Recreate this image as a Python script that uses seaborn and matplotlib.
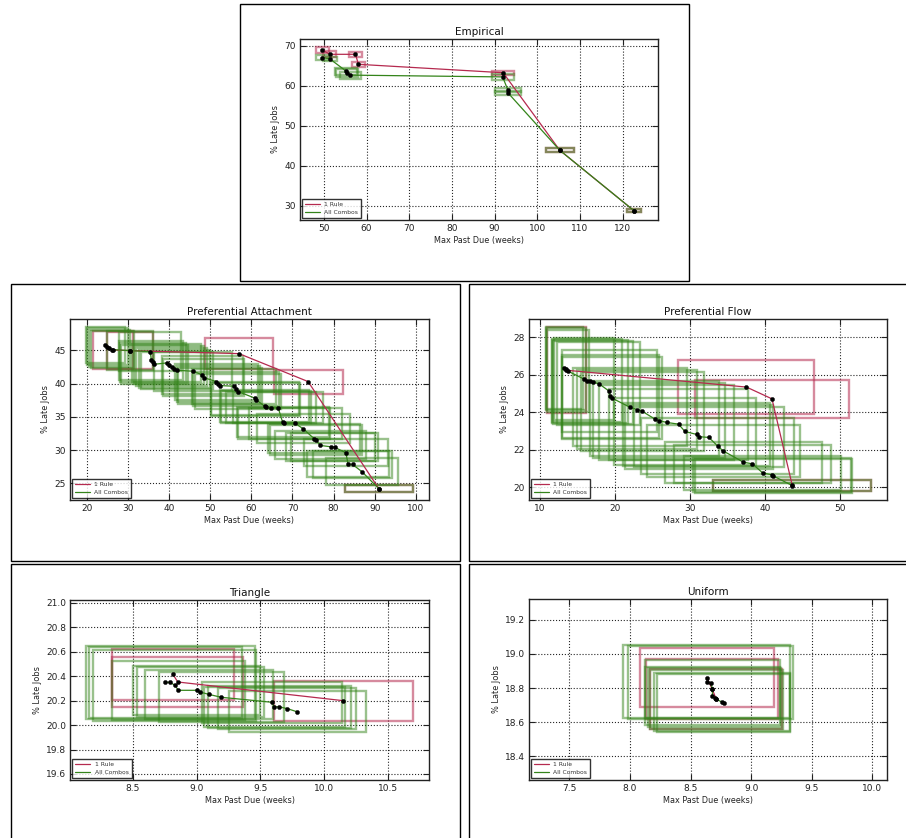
import numpy as np
import pandas as pd
import seaborn as sns
import matplotlib
matplotlib.use('Agg')
import matplotlib.pyplot as plt
from matplotlib.patches import Rectangle
from matplotlib.ticker import FormatStrFormatter, MultipleLocator

# ---------------- DATA ----------------
# Empirical
emp_rule_x = [49.6, 51.4, 57.4, 58.1, 92.0, 105.3, 122.7]
emp_rule_y = [69.0, 67.9, 67.9, 65.4, 63.3, 43.9, 28.8]
emp_rule_xerr = [1.5, 1.5, 1.5, 1.5, 2.5, 3.3, 1.7]
emp_rule_yerr = [0.75, 0.75, 0.7, 0.55, 0.5, 0.5, 0.4]
emp_combo_x = [49.6, 51.4, 55.2, 55.4, 56.2, 91.9, 93.1, 93.2, 105.3, 122.7]
emp_combo_y = [67.1, 66.75, 63.7, 63.25, 62.7, 62.25, 59.0, 58.2, 43.9, 28.8]
emp_combo_xerr = [1.5, 1.6, 2.6, 2.6, 2.5, 2.6, 3.0, 3.0, 3.3, 1.7]
emp_combo_yerr = [0.65, 0.6, 0.9, 0.9, 0.85, 0.65, 0.6, 0.55, 0.5, 0.4]

# Preferential Attachment
pa_rule_x = [26.3, 30.6, 57.0, 73.8, 91.0]
pa_rule_y = [45.05, 44.95, 44.5, 40.3, 24.2]
pa_rule_xerr = [4.9, 5.6, 8.25, 8.4, 8.2]
pa_rule_yerr = [2.85, 2.8, 2.3, 1.8, 0.48]
pa_combo_x = [24.5, 25.0, 25.5, 26.2, 30.6, 35.4, 35.7, 36.0, 36.4, 39.4, 40.0,
              40.6, 41.3, 41.9, 45.9, 48.1, 48.4, 51.5, 52.0, 52.3, 55.8, 56.3,
              56.8, 60.9, 61.1, 63.2, 63.5, 64.8, 66.5, 67.6, 67.9, 70.7, 72.6,
              75.3, 75.7, 76.8, 79.3, 80.3, 83.0, 83.5, 84.6, 86.9, 91.0]
pa_combo_y = [45.8, 45.55, 45.3, 45.1, 44.95, 44.8, 43.5, 43.2, 42.9, 43.1, 42.8,
              42.5, 42.2, 42.0, 41.85, 41.3, 40.9, 40.3, 39.9, 39.7, 39.6, 39.2,
              38.8, 37.8, 37.6, 36.6, 36.5, 36.4, 36.4, 34.2, 34.0, 34.0, 33.2,
              31.7, 31.5, 30.7, 30.5, 30.4, 29.6, 27.9, 27.85, 26.75, 24.2]
pa_combo_xerr = [4.8, 4.9, 5.0, 5.2, 5.6, 7.5, 7.8, 8.0, 8.2, 8.4, 8.5,
                 8.6, 8.6, 8.7, 9.5, 9.8, 9.8, 10.0, 10.2, 10.2, 10.3, 10.4,
                 10.5, 10.8, 10.8, 10.9, 11.0, 11.0, 11.0, 11.2, 11.2, 11.3, 11.3,
                 11.2, 11.2, 11.0, 10.8, 10.6, 10.2, 10.0, 9.5, 8.8, 8.2]
pa_combo_yerr = [2.75, 2.8, 2.8, 2.75, 2.9, 2.9, 2.9, 2.9, 2.9, 2.8, 2.8,
                 2.8, 2.8, 2.8, 2.9, 2.8, 2.8, 2.7, 2.7, 2.7, 2.6, 2.6,
                 2.6, 2.5, 2.5, 2.4, 2.4, 2.4, 2.4, 2.3, 2.3, 2.3, 2.2,
                 2.2, 2.2, 2.1, 2.1, 2.1, 2.0, 2.0, 2.0, 2.0, 0.48]

# Preferential Flow
pf_rule_x = [13.5, 37.5, 40.9, 43.6]
pf_rule_y = [26.25, 25.35, 24.72, 20.1]
pf_rule_xerr = [2.6, 9.05, 10.3, 10.5]
pf_rule_yerr = [2.3, 1.45, 1.0, 0.28]
pf_combo_x = [13.24, 13.46, 13.73, 15.9, 16.26, 16.66, 17.06, 17.8, 19.23, 19.37,
              19.6, 21.94, 22.96, 23.6, 25.27, 25.8, 26.9, 28.46, 29.3, 30.86,
              31.2, 32.5, 33.7, 34.4, 37.1, 38.3, 39.65, 40.9, 41.1, 43.6]
pf_combo_y = [26.38, 26.31, 26.2, 25.77, 25.7, 25.65, 25.6, 25.54, 25.13, 24.85,
              24.76, 24.28, 24.15, 24.06, 23.65, 23.56, 23.46, 23.37, 22.98, 22.82,
              22.7, 22.66, 22.19, 21.94, 21.34, 21.25, 20.77, 20.66, 20.6, 20.09]
pf_combo_xerr = [2.5, 2.7, 2.8, 4.0, 4.6, 5.0, 5.3, 5.5, 6.3, 6.5,
                 6.6, 7.6, 8.0, 8.2, 8.6, 8.8, 9.0, 9.3, 9.5, 9.8,
                 9.9, 10.0, 10.2, 10.2, 10.4, 10.4, 10.5, 10.5, 10.4, 10.5]
pf_combo_yerr = [2.2, 2.2, 2.2, 2.2, 2.2, 2.2, 2.2, 2.2, 2.2, 2.2,
                 2.2, 2.1, 2.1, 2.1, 2.0, 2.0, 2.0, 1.9, 1.8, 1.7,
                 1.7, 1.6, 1.5, 1.4, 1.1, 1.0, 0.9, 0.9, 0.9, 0.28]

# Triangle
tri_rule_x = [8.814, 8.853, 10.149]
tri_rule_y = [20.416, 20.353, 20.2]
tri_rule_xerr = [0.478, 0.513, 0.545]
tri_rule_yerr = [0.21, 0.205, 0.163]
tri_combo_x = [8.756, 8.795, 8.829, 8.858, 9.0, 9.03, 9.095, 9.192,
               9.589, 9.61, 9.649, 9.711, 9.79]
tri_combo_y = [20.35, 20.35, 20.326, 20.285, 20.285, 20.27, 20.252, 20.228,
               20.187, 20.149, 20.149, 20.135, 20.108]
tri_combo_xerr = [0.6, 0.66, 0.64, 0.52, 0.5, 0.5, 0.5, 0.49,
                  0.55, 0.55, 0.56, 0.54, 0.537]
tri_combo_yerr = [0.29, 0.3, 0.29, 0.24, 0.2, 0.207, 0.2, 0.205,
                  0.17, 0.166, 0.17, 0.17, 0.168]

# Uniform
uni_rule_x = [8.636, 8.678, 8.712]
uni_rule_y = [18.86, 18.795, 18.735]
uni_rule_xerr = [0.556, 0.546, 0.547]
uni_rule_yerr = [0.174, 0.176, 0.174]
uni_combo_x = [8.632, 8.665, 8.681, 8.681, 8.698, 8.714, 8.758, 8.775]
uni_combo_y = [18.837, 18.831, 18.796, 18.753, 18.744, 18.734, 18.718, 18.713]
uni_combo_xerr = [0.69, 0.68, 0.56, 0.556, 0.55, 0.547, 0.56, 0.55]
uni_combo_yerr = [0.214, 0.214, 0.17, 0.17, 0.172, 0.174, 0.172, 0.17]

series_labels = ['1 Rule', 'All Combos']
x_label = 'Max Past Due (weeks)'
y_label = '% Late Jobs'

# ---------------- STYLE ----------------
sns.set_theme(style='white')
plt.rcParams['font.family'] = ['DejaVu Sans']

RED = '#b52a4f'
GREEN = '#34841a'

W, H = 906, 838
fig = plt.figure(figsize=(W / 100, H / 100), dpi=100)
fig.patch.set_facecolor('white')


def add_frame(x0, y0, x1, y1):
    fig.add_artist(Rectangle((x0 / W, 1 - y1 / H), (x1 - x0) / W, (y1 - y0) / H,
                             transform=fig.transFigure, fill=False,
                             edgecolor='black', lw=1.0))


def make_ax(l, r, t, b):
    return fig.add_axes([l / W, 1 - b / H, (r - l) / W, (b - t) / H])


def draw_panel(ax, title, rule, combo, xlim, ylim, xstep, ystep, fmt):
    for (xs, ys, xe, ye), col, al in [(rule, RED, 0.55), (combo, GREEN, 0.5)]:
        for x, y, ex, ey in zip(xs, ys, xe, ye):
            ax.add_patch(Rectangle((x - ex, y - ey), 2 * ex, 2 * ey, fill=False,
                                   edgecolor=col, lw=1.7, alpha=al, zorder=2))
    for (xs, ys, xe, ye), col, lab in [(rule, RED, series_labels[0]),
                                        (combo, GREEN, series_labels[1])]:
        df = pd.DataFrame({'x': xs, 'y': ys})
        sns.lineplot(data=df, x='x', y='y', sort=False, estimator=None,
                     color=col, lw=0.9, ax=ax, label=lab, zorder=3)
    for (xs, ys, xe, ye) in [rule, combo]:
        df = pd.DataFrame({'x': xs, 'y': ys})
        sns.scatterplot(data=df, x='x', y='y', color='black', s=9,
                        edgecolor='black', linewidth=0.3, ax=ax, zorder=4,
                        legend=False)
    ax.set_xlim(*xlim)
    ax.set_ylim(*ylim)
    ax.xaxis.set_major_locator(MultipleLocator(xstep))
    ax.yaxis.set_major_locator(MultipleLocator(ystep))
    if fmt:
        ax.xaxis.set_major_formatter(FormatStrFormatter(fmt[0]))
        ax.yaxis.set_major_formatter(FormatStrFormatter(fmt[1]))
    ax.grid(True, color='black', linestyle=':', lw=0.8, alpha=0.85)
    ax.set_axisbelow(True)
    for sp in ax.spines.values():
        sp.set_color('#222222')
        sp.set_linewidth(1.0)
    ax.tick_params(direction='in', length=4, width=0.8, colors='#222222',
                   labelsize=6.5, top=True, right=True, bottom=True, left=True,
                   labelcolor='#222222', pad=3)
    ax.set_title(title, fontsize=7.5, pad=3, color='#111111')
    ax.set_xlabel(x_label, fontsize=5.9, labelpad=2, color='#222222')
    ax.set_ylabel(y_label, fontsize=5.9, labelpad=3, color='#222222')
    leg = ax.legend(loc='lower left', fontsize=4.3, frameon=True, fancybox=False,
                    borderaxespad=0.3, handlelength=2.5, borderpad=0.5,
                    labelspacing=0.5)
    leg.get_frame().set_edgecolor('black')
    leg.get_frame().set_linewidth(1.0)
    for t in leg.get_texts():
        t.set_color('#333333')


# panel frames
add_frame(239.5, 3.5, 688.5, 280.5)
add_frame(10.5, 284.5, 459.5, 560.5)
add_frame(468.5, 284.5, 906.5, 560.5)
add_frame(10.5, 563.5, 459.5, 840)
add_frame(468.5, 563.5, 906.5, 840)

ax1 = make_ax(300, 658, 38.7, 220)
draw_panel(ax1, 'Empirical',
           (emp_rule_x, emp_rule_y, emp_rule_xerr, emp_rule_yerr),
           (emp_combo_x, emp_combo_y, emp_combo_xerr, emp_combo_yerr),
           (44.4, 128.3), (26.5, 71.8), 10, 10, None)

ax2 = make_ax(70, 429, 318.7, 500)
draw_panel(ax2, 'Preferential Attachment',
           (pa_rule_x, pa_rule_y, pa_rule_xerr, pa_rule_yerr),
           (pa_combo_x, pa_combo_y, pa_combo_xerr, pa_combo_yerr),
           (15.9, 103.2), (22.5, 49.75), 10, 5, None)

ax3 = make_ax(529, 887.3, 318.7, 500)
draw_panel(ax3, 'Preferential Flow',
           (pf_rule_x, pf_rule_y, pf_rule_xerr, pf_rule_yerr),
           (pf_combo_x, pf_combo_y, pf_combo_xerr, pf_combo_yerr),
           (8.54, 56.26), (19.32, 29.0), 10, 2, None)

ax4 = make_ax(70.3, 429, 600.3, 779.7)
draw_panel(ax4, 'Triangle',
           (tri_rule_x, tri_rule_y, tri_rule_xerr, tri_rule_yerr),
           (tri_combo_x, tri_combo_y, tri_combo_xerr, tri_combo_yerr),
           (8.011, 10.82), (19.553, 21.022), 0.5, 0.2, ('%.1f', '%.1f'))

ax5 = make_ax(529, 887.3, 598.7, 779.7)
draw_panel(ax5, 'Uniform',
           (uni_rule_x, uni_rule_y, uni_rule_xerr, uni_rule_yerr),
           (uni_combo_x, uni_combo_y, uni_combo_xerr, uni_combo_yerr),
           (7.167, 10.124), (18.263, 19.323), 0.5, 0.2, ('%.1f', '%.1f'))

fig.savefig('out.png', dpi=100, facecolor='white')
